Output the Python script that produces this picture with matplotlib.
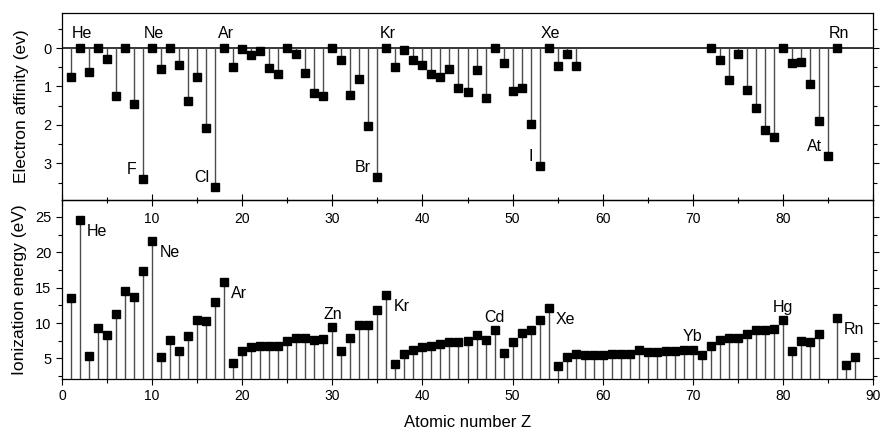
import matplotlib
matplotlib.use("Agg")
import matplotlib.pyplot as plt
from matplotlib.ticker import MultipleLocator, FixedLocator

plt.rcParams['font.family'] = ['Liberation Sans', 'DejaVu Sans']

# Electron affinity (eV) for Z = 1..57 and 72..86
ea_z = list(range(1, 58)) + list(range(72, 87))
ea_val = [0.75, 0.0, 0.62, 0.0, 0.28, 1.26, 0.0, 1.46, 3.40, 0.0,
          0.55, 0.0, 0.43, 1.39, 0.75, 2.08, 3.61, 0.0, 0.50, 0.02,
          0.19, 0.08, 0.53, 0.67, 0.0, 0.15, 0.66, 1.16, 1.24, 0.0,
          0.30, 1.23, 0.81, 2.02, 3.36, 0.0, 0.49, 0.05, 0.31, 0.43,
          0.68, 0.75, 0.55, 1.05, 1.14, 0.56, 1.30, 0.0, 0.38, 1.11,
          1.05, 1.97, 3.06, 0.0, 0.47, 0.15, 0.47,
          0.0, 0.32, 0.82, 0.15, 1.10, 1.56, 2.13, 2.31, 0.0, 0.38,
          0.36, 0.94, 1.90, 2.80, 0.0]

# First ionization energy (eV) for Z = 1..84, 86..88
ie_z = list(range(1, 85)) + [86, 87, 88]
ie_val = [13.60, 24.59, 5.39, 9.32, 8.30, 11.26, 14.53, 13.62, 17.42, 21.56,
          5.14, 7.65, 5.99, 8.15, 10.49, 10.36, 12.97, 15.76, 4.34, 6.11,
          6.56, 6.83, 6.75, 6.77, 7.43, 7.90, 7.88, 7.64, 7.73, 9.39,
          6.00, 7.90, 9.79, 9.75, 11.81, 14.00, 4.18, 5.69, 6.22, 6.63,
          6.76, 7.09, 7.28, 7.36, 7.46, 8.34, 7.58, 8.99, 5.79, 7.34,
          8.61, 9.01, 10.45, 12.13, 3.89, 5.21, 5.58, 5.54, 5.47, 5.53,
          5.58, 5.64, 5.67, 6.15, 5.86, 5.94, 6.02, 6.11, 6.18, 6.25,
          5.43, 6.83, 7.55, 7.86, 7.83, 8.44, 8.97, 8.96, 9.23, 10.44,
          6.11, 7.42, 7.29, 8.41, 10.75, 4.07, 5.28]

# Element annotations
ea_labels_top = [("He", 2), ("Ne", 10), ("Ar", 18), ("Kr", 36), ("Xe", 54), ("Rn", 86)]
ea_labels_low = [("F", 9), ("Cl", 17), ("Br", 35), ("I", 53), ("At", 85)]
ie_labels_right = [("He", 2), ("Ne", 10), ("Ar", 18), ("Kr", 36), ("Xe", 54), ("Rn", 86)]
ie_labels_above = [("Zn", 30), ("Cd", 48), ("Yb", 70), ("Hg", 80)]

W, H = 881, 429
fig = plt.figure(figsize=(W / 100, H / 100), dpi=100)
x0, x1 = 62 / W, 873 / W
ax2 = fig.add_axes([x0, 1 - 379 / H, x1 - x0, 179 / H])
ax1 = fig.add_axes([x0, 1 - 200 / H, x1 - x0, 187 / H])
# upper panel on top with a transparent background so its Z labels show below the shared edge
ax1.set_zorder(3)
ax1.patch.set_visible(False)

stem_kw = dict(colors='#4d4d4d', linewidths=1.0, zorder=2)
mk_kw = dict(marker='s', color='black', markersize=6, linestyle='none', zorder=3)
lab_fs = 11.5

# --- electron affinity panel ---
ax1.axhline(0, color='black', lw=1.1, zorder=1)
ax1.vlines(ea_z, 0, ea_val, **stem_kw)
ax1.plot(ea_z, ea_val, **mk_kw)
ax1.set_xlim(0, 90)
ax1.set_ylim(3.95, -0.91)
ax1.set_ylabel("Electron affinity (ev)", fontsize=12.5, labelpad=10)
ax1.yaxis.set_major_locator(FixedLocator([0, 1, 2, 3]))
ax1.yaxis.set_minor_locator(MultipleLocator(0.5))
ax1.set_xticks(range(0, 91, 10))
ax1.set_xticklabels([''] + [str(v) for v in range(10, 90, 10)] + [''])
ax1.xaxis.set_minor_locator(MultipleLocator(5))
ax1.tick_params(axis='x', which='both', direction='inout', width=0.8,
                labelsize=10, pad=4)
ax1.tick_params(axis='x', which='major', length=8.6)
ax1.tick_params(axis='x', which='minor', length=5)
ax1.tick_params(axis='y', which='both', direction='out', right=True, width=0.8,
                labelsize=10.5)
ax1.tick_params(axis='y', which='major', length=4)
ax1.tick_params(axis='y', which='minor', length=3)

ea_map = dict(zip(ea_z, ea_val))
for sym, z in ea_labels_top:
    ax1.text(z + 0.2, -0.38, sym, ha='center', va='center', fontsize=lab_fs)
for sym, z in ea_labels_low:
    v = ea_map[z]
    ax1.text(z - 0.7, v - 0.25, sym, ha='right', va='center', fontsize=lab_fs)

# --- ionization energy panel ---
ax2.vlines(ie_z, 0, ie_val, **stem_kw)
ax2.plot(ie_z, ie_val, **mk_kw)
ax2.set_xlim(0, 90)
ax2.set_ylim(2.1, 27.4)
ax2.set_ylabel("Ionization energy (eV)", fontsize=12.5, labelpad=6)
ax2.set_xlabel("Atomic number Z", fontsize=12, labelpad=8)
ax2.yaxis.set_major_locator(FixedLocator([5, 10, 15, 20, 25]))
ax2.yaxis.set_minor_locator(MultipleLocator(2.5))
ax2.set_xticks(range(0, 91, 10))
ax2.xaxis.set_minor_locator(MultipleLocator(5))
ax2.tick_params(axis='x', which='both', direction='out', width=0.8, labelsize=10)
ax2.tick_params(axis='x', which='major', length=4)
ax2.tick_params(axis='x', which='minor', length=3)
ax2.tick_params(axis='y', which='both', direction='out', right=True, width=0.8,
                labelsize=10.5)
ax2.tick_params(axis='y', which='major', length=4)
ax2.tick_params(axis='y', which='minor', length=3)

ie_map = dict(zip(ie_z, ie_val))
for sym, z in ie_labels_right:
    v = ie_map[z]
    ax2.text(z + 0.8, v - 1.6, sym, ha='left', va='center', fontsize=lab_fs)
for sym, z in ie_labels_above:
    v = ie_map[z]
    ax2.text(z, v + 1.8, sym, ha='center', va='center', fontsize=lab_fs)

for ax in (ax1, ax2):
    for s in ax.spines.values():
        s.set_linewidth(0.9)

fig.align_ylabels([ax1, ax2])
fig.savefig("out.png", dpi=100)
